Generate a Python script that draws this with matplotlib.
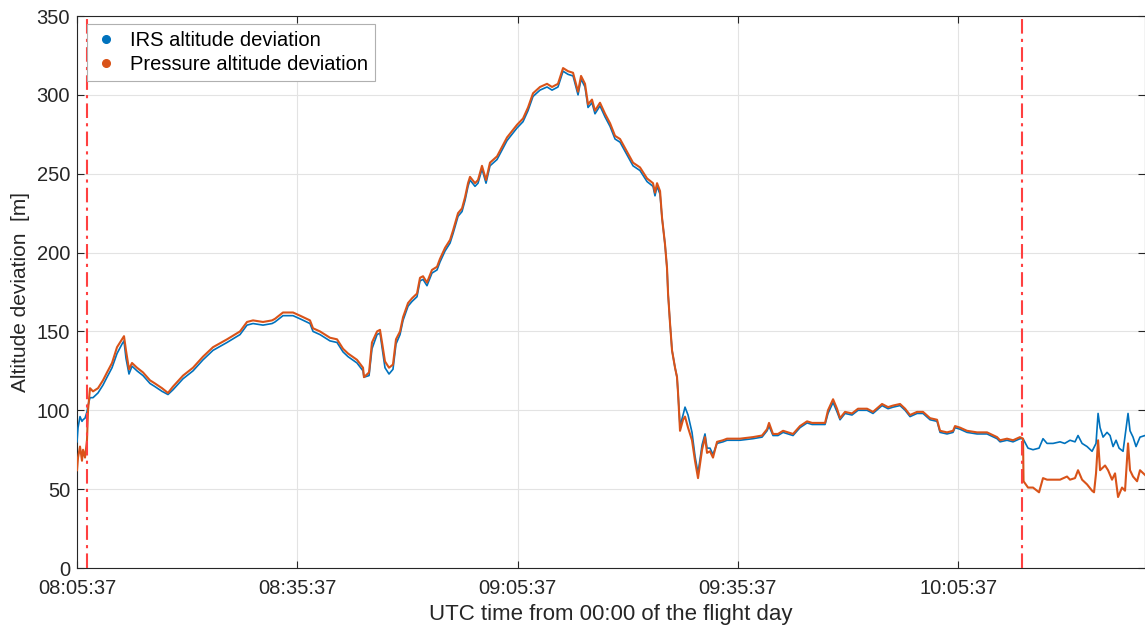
import matplotlib
matplotlib.use("Agg")
import matplotlib.pyplot as plt
from matplotlib.lines import Line2D

# ---- data: minutes after 08:05:37 UTC, altitude deviation [m] ----
t_pres = [0, 0.14, 0.41, 0.68, 0.82, 1.09, 1.36, 1.50, 1.77, 2.18,
          2.86, 3.54, 4.09, 4.77, 5.45, 6.13, 6.40, 6.67, 7.08, 7.49,
          8.17, 8.99, 9.94, 10.62, 11.58, 12.39, 13.07, 14.44, 15.80, 17.16,
          18.52, 20.43, 22.20, 23.15, 23.97, 25.33, 26.56, 26.96, 28.05, 28.73,
          29.42, 30.37, 31.73, 32.14, 33.09, 34.45, 35.41, 36.23, 36.91, 38.13,
          38.95, 39.08, 39.77, 40.17, 40.86, 41.26, 41.54, 41.94, 42.49, 43.03,
          43.44, 43.99, 44.40, 45.08, 45.62, 46.30, 46.71, 47.12, 47.66, 48.34,
          49.03, 49.43, 50.12, 50.80, 51.21, 51.89, 52.43, 52.84, 53.25, 53.52,
          54.20, 54.61, 55.15, 55.70, 56.24, 57.20, 57.88, 58.56, 59.24, 59.92,
          60.74, 61.42, 62.10, 63.05, 64.01, 64.69, 65.50, 66.19, 66.87, 67.55,
          68.23, 68.64, 69.18, 69.59, 70.13, 70.54, 71.22, 71.91, 72.59, 73.27,
          73.95, 74.90, 75.72, 76.67, 77.08, 77.63, 78.44, 78.71, 78.99, 79.40,
          79.67, 80.08, 80.35, 80.49, 80.76, 81.03, 81.44, 81.71, 81.85, 82.12,
          82.53, 82.80, 83.21, 83.75, 84.16, 84.57, 85.12, 85.52, 85.80, 86.20,
          86.61, 87.16, 87.97, 88.52, 90.29, 92.06, 93.29, 93.97, 94.24, 94.78,
          95.46, 96.15, 96.83, 97.51, 98.46, 99.42, 100.10, 100.78, 101.87, 102.27,
          102.96, 103.50, 103.91, 104.59, 105.54, 106.36, 107.59, 108.40, 109.63, 110.45,
          111.13, 112.08, 112.77, 113.44, 114.40, 115.21, 116.17, 117.12, 117.53, 118.48,
          119.30, 119.57, 120.25, 121.20, 122.57, 123.93, 125.29, 125.70, 126.65, 127.47,
          128.42, 128.83, 128.90, 129.51, 130.19, 131.01, 131.55, 132.10, 132.92, 133.87,
          134.82, 135.23, 135.91, 136.32, 136.87, 137.55, 138.23, 138.50, 138.77, 139.05,
          139.32, 140.00, 140.41, 140.95, 141.36, 141.77, 142.31, 142.72, 143.13, 143.40,
          143.81, 144.36, 144.76, 145.44]

alt_pres = [62, 70, 77, 68, 75, 70, 81, 100, 114, 112,
            114, 119, 124, 130, 140, 145, 147, 138, 126, 130,
            127, 124, 119, 117, 114, 111, 115, 122, 127, 134,
            140, 145, 150, 156, 157, 156, 157, 158, 162, 162,
            162, 160, 157, 152, 150, 146, 145, 139, 136, 132,
            127, 121, 124, 143, 150, 151, 143, 131, 127, 129,
            145, 150, 159, 168, 171, 174, 184, 185, 181, 189,
            191, 196, 203, 208, 214, 225, 228, 235, 244, 248,
            244, 246, 255, 246, 257, 261, 267, 273, 277, 281,
            285, 292, 301, 305, 307, 305, 307, 317, 315, 314,
            302, 312, 307, 294, 297, 290, 295, 288, 282, 274,
            272, 264, 257, 254, 251, 247, 244, 238, 244, 239,
            222, 205, 190, 174, 155, 138, 127, 121, 111, 87,
            94, 96, 89, 81, 68, 57, 75, 83, 73, 74,
            70, 80, 81, 82, 82, 83, 84, 88, 92, 85,
            85, 87, 86, 85, 90, 93, 92, 92, 92, 100,
            107, 101, 95, 99, 98, 101, 101, 99, 104, 102,
            103, 104, 101, 97, 99, 99, 95, 94, 87, 86,
            87, 90, 89, 87, 86, 86, 83, 81, 82, 81,
            83, 82, 55, 51, 51, 48, 57, 56, 56, 56,
            58, 56, 57, 62, 56, 53, 49, 48, 60, 81,
            62, 65, 62, 56, 60, 45, 51, 49, 79, 62,
            58, 55, 62, 59]

t_irs_tail = [129.51, 130.19, 131.01, 131.55, 132.10, 132.92, 133.87, 134.50, 135.23, 135.91,
              136.32, 136.87, 137.55, 138.23, 138.77, 139.05, 139.32, 139.73, 140.27, 140.68,
              141.09, 141.50, 141.91, 142.45, 143.13, 143.40, 143.81, 144.22, 144.76, 145.44]
t_irs = t_pres[:192] + t_irs_tail

alt_irs = [80, 89, 96, 93, 94, 95, 99, 103, 108, 108,
           111, 116, 121, 127, 136, 142, 144, 133, 123, 128,
           125, 122, 117, 115, 112, 110, 113, 120, 125, 132,
           138, 143, 148, 154, 155, 154, 155, 156, 160, 160,
           160, 158, 155, 150, 148, 144, 143, 137, 134, 130,
           125, 121, 122, 139, 148, 149, 140, 127, 123, 126,
           142, 148, 157, 166, 169, 172, 182, 183, 179, 187,
           189, 194, 201, 206, 212, 223, 226, 233, 242, 246,
           242, 244, 253, 244, 255, 259, 265, 271, 275, 279,
           283, 290, 299, 303, 305, 303, 305, 315, 313, 312,
           300, 310, 305, 292, 295, 288, 293, 286, 280, 272,
           270, 262, 255, 252, 249, 245, 242, 236, 242, 237,
           222, 205, 190, 174, 155, 138, 127, 121, 111, 90,
           97, 102, 97, 86, 71, 60, 78, 85, 76, 76,
           72, 79, 80, 81, 81, 82, 83, 87, 90, 84,
           84, 86, 85, 84, 89, 92, 91, 91, 91, 98,
           105, 99, 94, 98, 97, 100, 100, 98, 103, 101,
           102, 103, 100, 96, 98, 98, 94, 93, 86, 85,
           86, 89, 88, 86, 85, 85, 82, 80, 81, 80,
           82, 82,
           76, 75, 76, 82, 79, 79, 80, 79, 81, 80,
           84, 79, 77, 74, 79, 98, 89, 83, 86, 84,
           77, 81, 76, 74, 98, 87, 83, 77, 83, 84]

event_lines = [1.36, 128.69]          # minutes after 08:05:37
tick_pos = [0, 30, 60, 90, 120]
tick_labels = ["08:05:37", "08:35:37", "09:05:37", "09:35:37", "10:05:37"]
y_ticks = [0, 50, 100, 150, 200, 250, 300, 350]
series_names = ["IRS altitude deviation", "Pressure altitude deviation"]

# ---- figure ----
plt.rcParams['font.family'] = ['Liberation Sans', 'DejaVu Sans']
BLUE = '#0072BD'
ORANGE = '#D95319'
AX = '#262626'

fig = plt.figure(figsize=(11.45, 6.32), dpi=100)
ax = fig.add_axes([77/1145, 1-568/632, 1-77/1145, (568-16)/632])

ax.plot(t_irs, alt_irs, color=BLUE, lw=1.2, zorder=3)
ax.plot(t_pres, alt_pres, color=ORANGE, lw=1.5, zorder=4)

for xv in event_lines:
    ax.axvline(xv, color='#FF4040', lw=1.5, ls=(0, (7, 2.5, 1.5, 2.5)), zorder=5)

ax.set_xlim(0, 145.44)
ax.set_ylim(0, 350)
ax.set_xticks(tick_pos)
ax.set_xticklabels(tick_labels)
ax.set_yticks(y_ticks)

ax.grid(True, color='#e3e3e3', lw=0.8, zorder=0)
ax.set_axisbelow(True)
for s in ax.spines.values():
    s.set_color(AX)
    s.set_linewidth(0.8)
ax.tick_params(axis='both', direction='in', length=5, width=0.8, color=AX,
               labelcolor=AX, labelsize=14.5, top=True, right=True)
ax.tick_params(axis='x', pad=8)
ax.tick_params(axis='y', pad=5)

ax.set_xlabel("UTC time from 00:00 of the flight day", fontsize=16, color=AX, labelpad=4)
ax.set_ylabel("Altitude deviation  [m]", fontsize=15, color=AX, labelpad=5)

handles = [Line2D([], [], ls='none', marker='o', ms=5.5, color=BLUE),
           Line2D([], [], ls='none', marker='o', ms=5.5, color=ORANGE)]
leg = ax.legend(handles, series_names, loc='upper left',
                bbox_to_anchor=(10/1068, 1-8/552), borderaxespad=0,
                fontsize=14.5, frameon=True, fancybox=False, framealpha=1,
                edgecolor='#b0b0b0', handletextpad=0.6, handlelength=1.2,
                borderpad=0.35, labelspacing=0.25)
leg.get_frame().set_linewidth(0.8)
leg.set_zorder(10)

fig.savefig("out.png", dpi=100)
